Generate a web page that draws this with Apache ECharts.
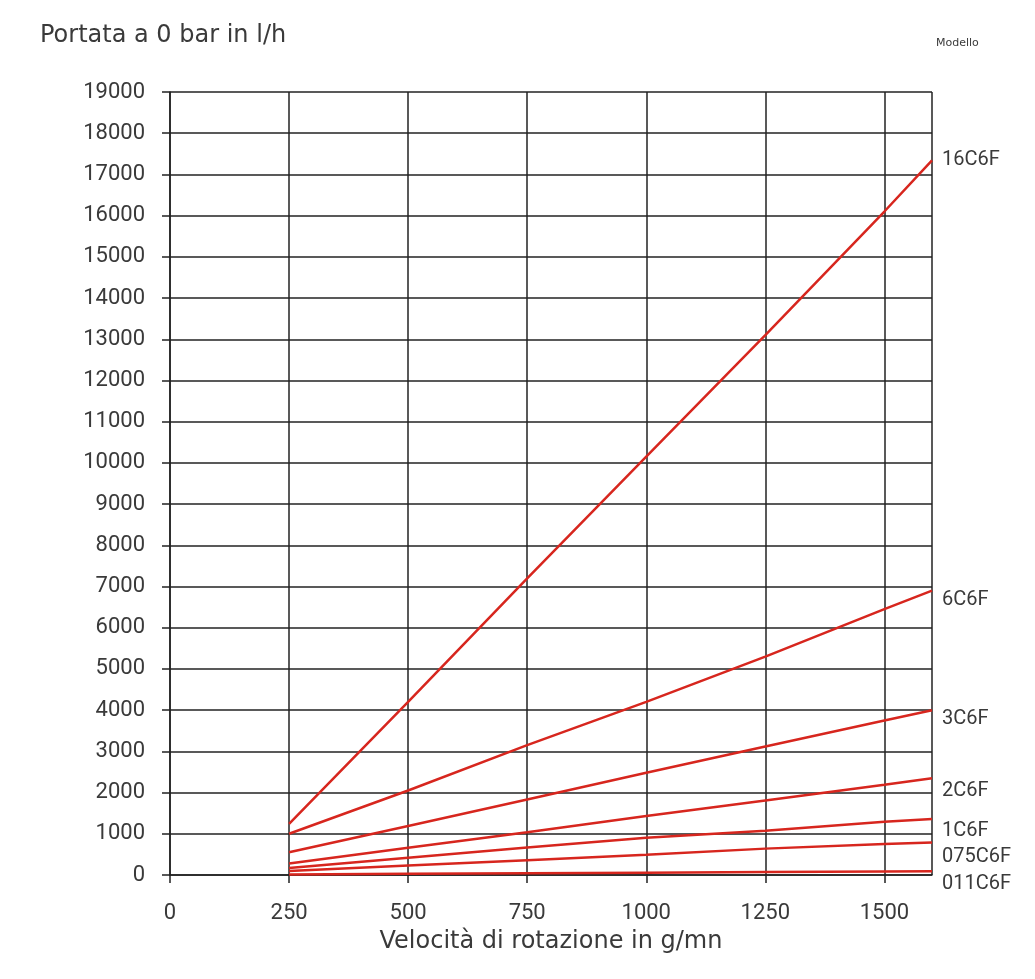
<!DOCTYPE html>
<html><head><meta charset="utf-8">
<script src="https://cdn.jsdelivr.net/npm/echarts@6/dist/echarts.min.js"></script>
<style>html,body{margin:0;padding:0;background:#fff}#c{width:1035px;height:979px}</style>
</head><body><div id="c"></div>
<script>
const speeds = [250, 500, 750, 1000, 1250, 1500, 1600];
const m16C6F  = [1240, 4200, 7200, 10150, 13100, 16100, 17340];
const m6C6F   = [1000, 2050, 3150, 4200, 5300, 6450, 6900];
const m3C6F   = [550, 1190, 1830, 2480, 3120, 3750, 4000];
const m2C6F   = [280, 660, 1040, 1430, 1810, 2190, 2350];
const m1C6F   = [170, 420, 670, 905, 1075, 1290, 1360];
const m075C6F = [100, 230, 360, 490, 640, 750, 790];
const m011C6F = [15, 30, 45, 55, 70, 85, 90];
const modelNames = ['16C6F','6C6F','3C6F','2C6F','1C6F','075C6F','011C6F'];
const modelData = [m16C6F, m6C6F, m3C6F, m2C6F, m1C6F, m075C6F, m011C6F];
const labelOffsets = [0, 9, 9, 13, 12, 15, 13];

const font = "'DejaVu Sans',sans-serif";
const numFont = "Roboto,'DejaVu Sans',sans-serif";
const txt = '#3a3a3a';

const chart = echarts.init(document.getElementById('c'));
chart.setOption({
  animation: false,
  textStyle: {fontFamily: font},
  grid: {left: 170, right: 103, top: 92, bottom: 104},
  title: [
    {text: 'Portata a 0 bar in l/h', left: 35, top: 19, textStyle: {fontFamily: font, fontSize: 24, fontWeight: 'normal', color: txt}},
    {text: 'Modello', left: 931, top: 33, textStyle: {fontFamily: font, fontSize: 11, fontWeight: 'normal', color: txt}}
  ],
  xAxis: {
    type: 'value', min: 0, max: 1600, interval: 250,
    name: 'Velocità di rotazione in g/mn', nameLocation: 'middle', nameGap: 55,
    nameTextStyle: {fontFamily: font, fontSize: 24, color: txt},
    axisLine: {show: true, lineStyle: {color: '#222', width: 1.5}},
    axisTick: {show: true, length: 8, lineStyle: {color: '#222', width: 1.5}},
    axisLabel: {fontFamily: numFont, fontSize: 22, color: txt, margin: 27, showMaxLabel: false,
      formatter: v => (v === 1600 ? '' : String(v))},
    splitLine: {show: true, lineStyle: {color: '#222', width: 1.5}}
  },
  yAxis: {
    type: 'value', min: 0, max: 19000, interval: 1000,
    axisLine: {show: true, lineStyle: {color: '#222', width: 1.5}},
    axisTick: {show: true, length: 8, lineStyle: {color: '#222', width: 1.5}},
    axisLabel: {fontFamily: numFont, fontSize: 22, color: txt, margin: 25, formatter: v => String(v)},
    splitLine: {show: true, lineStyle: {color: '#222', width: 1.5}}
  },
  series: modelNames.map((n, i) => ({
    name: n, type: 'line', symbol: 'none', z: 5,
    data: speeds.map((s, j) => [s, modelData[i][j]]),
    lineStyle: {color: '#d7261e', width: 2.5},
    endLabel: {show: true, formatter: n, distance: 10, offset: [0, labelOffsets[i]],
      fontFamily: numFont, fontSize: 20, color: txt}
  }))
});
</script></body></html>
